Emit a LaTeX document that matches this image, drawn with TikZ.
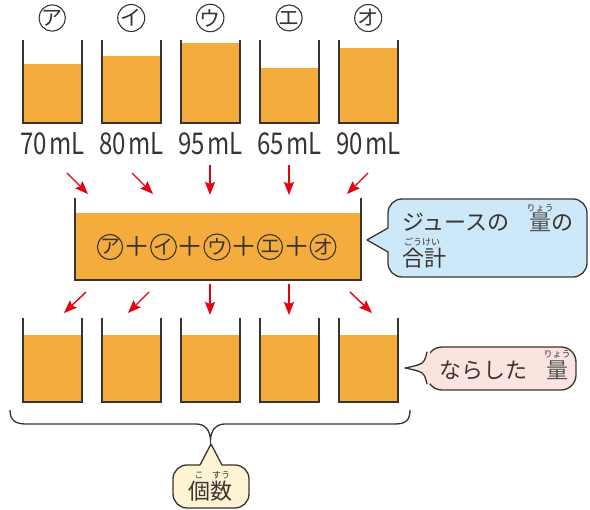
\documentclass[tikz,border=0pt]{standalone}
\usepackage{fontspec}
\setmainfont{Noto Sans CJK JP}
\newfontfamily\numfont[FakeStretch=0.8]{Noto Sans CJK JP}
\usetikzlibrary{arrows.meta}
\definecolor{juice}{HTML}{F4AD3D}
\definecolor{ink}{HTML}{3A3330}
\definecolor{arr}{HTML}{E60012}
\definecolor{bluef}{HTML}{CDE8F8}
\definecolor{pinkf}{HTML}{FBE4E0}
\definecolor{yellf}{HTML}{FEF4D4}
\definecolor{kanji}{HTML}{555555}
\begin{document}
\begin{tikzpicture}[x=1pt,y=-1pt,
  wall/.style={draw=ink,line width=1.8pt},
  liquid/.style={fill=juice},
  ar/.style={draw=arr,line width=1.4pt,-{Stealth[length=13pt,width=10pt,inset=2pt]}},
  circ/.style={circle,draw=ink,line width=1.1pt,minimum size=26pt,inner sep=0pt,text=ink,font=\fontsize{21}{21}\selectfont},
  circs/.style={circ,minimum size=25pt,font=\fontsize{20}{20}\selectfont},
  plus/.style={text=ink,inner sep=0pt,font=\fontsize{27}{27}\selectfont},
  vol/.style={font=\numfont\fontsize{30}{30}\selectfont,text=ink,anchor=base,inner sep=0pt},
  bubble/.style={draw=ink,line width=1.3pt},
  big/.style={font=\fontsize{22}{22}\selectfont,text=ink,inner sep=0pt},
  ruby/.style={font=\fontsize{9}{9}\selectfont,text=ink,inner sep=0pt},
]
\useasboundingbox (0,0) rectangle (590,510);

% ---------- top beakers ----------
\foreach \c/\lv/\k/\v [count=\i] in {52.2/64/ア/70, 131.2/56/イ/80, 210.2/43/ウ/95, 289.2/68/エ/65, 368.2/48/オ/90}{
  \fill[liquid] (\c-29.5,\lv) rectangle (\c+29.5,123);
  \draw[wall] (\c-29.5,40) -- (\c-29.5,123) -- (\c+29.5,123) -- (\c+29.5,40);
  \node[circ] (lab\i) at (\c,18) {\k};
  \node[vol] (vol\i) at (\c,155) {\v\kern2.5pt mL};
}

% ---------- top arrows ----------
\coordinate (ta1s) at (67,173);  \coordinate (ta1e) at (88,194);
\coordinate (ta2s) at (132,173); \coordinate (ta2e) at (153,194);
\coordinate (ta3s) at (210,165); \coordinate (ta3e) at (210,195);
\coordinate (ta4s) at (289,165); \coordinate (ta4e) at (289,195);
\coordinate (ta5s) at (368,173); \coordinate (ta5e) at (347,194);
\foreach \i in {1,...,5}{\draw[ar] (ta\i s) -- (ta\i e);}

% ---------- big container ----------
\fill[liquid] (75,213) rectangle (361,280);
\draw[wall] (75,198) -- (75,280) -- (361,280) -- (361,198);
\node[circs] (s1) at (110,247) {ア};
\node[plus]  (p1) at (137,247) {＋};
\node[circs] (s2) at (163.5,247) {イ};
\node[plus]  (p2) at (190,247) {＋};
\node[circs] (s3) at (217,247) {ウ};
\node[plus]  (p3) at (244,247) {＋};
\node[circs] (s4) at (270,247) {エ};
\node[plus]  (p4) at (297,247) {＋};
\node[circs] (s5) at (323,247) {オ};

% ---------- blue callout ----------
\node[bubble,fill=bluef,rounded corners=14pt,minimum width=199pt,minimum height=78pt,inner sep=0pt] (cb) at (487.5,238) {};
\fill[bluef] (391,228) -- (388,228) -- (367,240) -- (388,252) -- (391,252) -- cycle;
\draw[bubble,line join=round,line cap=round] (388,228) -- (367,240) -- (388,252);
\node[big,anchor=west] (cb1) at (402,222) {ジュースの};
\node[big,anchor=west] (cb2) at (529,222) {{\color{kanji}量}の};
\node[ruby] (cbr1) at (540,208) {りょう};
\node[ruby] (cbr2) at (422,242) {ごうけい};
\node[big,anchor=west] (cb3) at (402,258) {合計};

% ---------- bottom arrows ----------
\coordinate (ba1s) at (86,292);  \coordinate (ba1e) at (64,313);
\coordinate (ba2s) at (149,292); \coordinate (ba2e) at (128,313);
\coordinate (ba3s) at (210,284); \coordinate (ba3e) at (210,315);
\coordinate (ba4s) at (289,284); \coordinate (ba4e) at (289,315);
\coordinate (ba5s) at (350,292); \coordinate (ba5e) at (372,313);
\foreach \i in {1,...,5}{\draw[ar] (ba\i s) -- (ba\i e);}

% ---------- bottom beakers ----------
\foreach \c in {52.2,131.2,210.2,289.2,368.2}{
  \fill[liquid] (\c-29.5,335) rectangle (\c+29.5,402);
  \draw[wall] (\c-29.5,318) -- (\c-29.5,402) -- (\c+29.5,402) -- (\c+29.5,318);
}

% ---------- pink callout ----------
\node[bubble,fill=pinkf,rounded corners=15pt,minimum width=149pt,minimum height=43pt,inner sep=0pt] (cp) at (501.5,368.5) {};
\fill[pinkf] (430,352) -- (427,352) .. controls (424,364) .. (405,368) .. controls (424,372) .. (427,384) -- (430,384) -- cycle;
\draw[bubble,line join=round,line cap=round] (427,352) .. controls (424,364) .. (405,368) .. controls (424,372) .. (427,384);
\node[big,anchor=west] (cp1) at (439,370) {ならした};
\node[big] (cp2) at (557,370) {\color{kanji}量};
\node[ruby] (cpr) at (557,354) {りょう};

% ---------- brace ----------
\draw[ink,line width=1.3pt] (10,410) .. controls (10,420) and (15,424) .. (26,424) -- (196,424)
  .. controls (205,424) and (210,430) .. (210.5,440)
  .. controls (211,430) and (216,424) .. (225,424) -- (395,424)
  .. controls (406,424) and (410,420) .. (410,410);

% ---------- yellow callout ----------
\node[bubble,fill=yellf,rounded corners=14pt,minimum width=76pt,minimum height=43pt,inner sep=0pt] (cy) at (211,486.5) {};
\fill[yellf] (200,468) -- (200,465) -- (211,444) -- (222,465) -- (222,468) -- cycle;
\draw[bubble,line join=round,line cap=round] (200,465) -- (211,444) -- (222,465);
\node[big] (cy1) at (210,491) {個数};
\node[ruby] (cyr1) at (199,475) {こ};
\node[ruby] (cyr2) at (221,475) {すう};
\end{tikzpicture}
\end{document}
